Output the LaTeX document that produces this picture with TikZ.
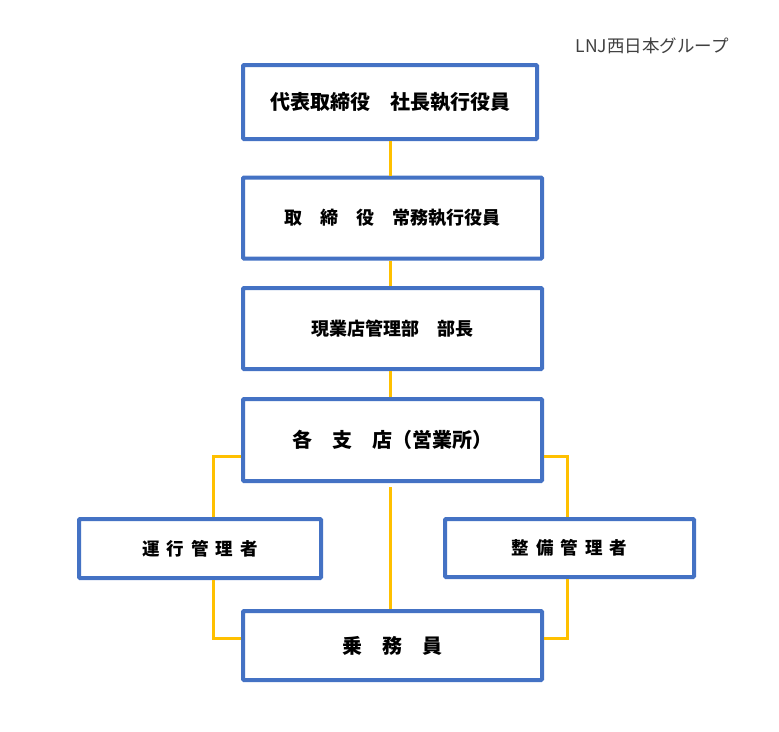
\documentclass[tikz,border=0pt]{standalone}
\usepackage{fontspec}
\newfontfamily\jpfont{Noto Sans CJK JP}
\definecolor{boxblue}{HTML}{4472C4}
\definecolor{linegold}{HTML}{FFC000}

\begin{document}
\begin{tikzpicture}[x=1pt,y=-1pt,line width=3pt,box/.style={draw=boxblue,line width=4pt,rounded corners=1pt,fill=white,inner sep=0pt},link/.style={draw=linegold,line width=3pt}]
\useasboundingbox (0,0) rectangle (779,731);
\node[anchor=west,text=black!75,font=\jpfont\fontsize{17.5}{17.5}\selectfont] (grp) at (571,46) {LNJ西日本グループ};
\node[box,minimum width=294,minimum height=74,font=\jpfont\bfseries\fontsize{20}{20}\selectfont] (b1) at (390,102) {代表取締役　社長執行役員};
\node[box,minimum width=299,minimum height=81,font=\jpfont\bfseries\fontsize{18}{18}\selectfont] (b2) at (392.5,218) {取　締　役　常務執行役員};
\node[box,minimum width=299,minimum height=81,font=\jpfont\bfseries\fontsize{18}{18}\selectfont] (b3) at (392.5,328.5) {現業店管理部　部長};
\node[box,minimum width=299,minimum height=82,font=\jpfont\bfseries\fontsize{20}{20}\selectfont] (b4) at (392.5,440) {各　支　店（営業所）};
\node[box,minimum width=242,minimum height=59,font=\jpfont\bfseries\fontsize{17.5}{17.5}\selectfont] (b5) at (200,548.5) {運\hspace{7pt}行\hspace{7pt}管\hspace{7pt}理\hspace{7pt}者};
\node[box,minimum width=249,minimum height=58,font=\jpfont\bfseries\fontsize{17.5}{17.5}\selectfont] (b6) at (569.5,548) {整\hspace{7pt}備\hspace{7pt}管\hspace{7pt}理\hspace{7pt}者};
\node[box,minimum width=299,minimum height=69,font=\jpfont\bfseries\fontsize{20}{20}\selectfont] (b7) at (392.5,645.5) {乗　務　員};
% joints of the connectors
\coordinate (mid) at (390,0);
\coordinate (ul) at (213,456);
\coordinate (ll) at (213,638);
\coordinate (ur) at (567,456);
\coordinate (lr) at (567,638);
\foreach \a/\b in {b1/b2,b2/b3,b3/b4}{\draw[link] (\a.south -| mid) -- (\b.north -| mid);};
\draw[link] ([yshift=-4pt]b4.south -| mid) -- (b7.north -| mid);
\draw[link] (b4.west |- ul) -- (ul) -- (ul |- b5.north);
\draw[link] (ul |- b5.south) -- (ll) -- (b7.west |- ll);
\draw[link] (b4.east |- ur) -- (ur) -- (ur |- b6.north);
\draw[link] (ur |- b6.south) -- (lr) -- (b7.east |- lr);
\end{tikzpicture}
\end{document}
